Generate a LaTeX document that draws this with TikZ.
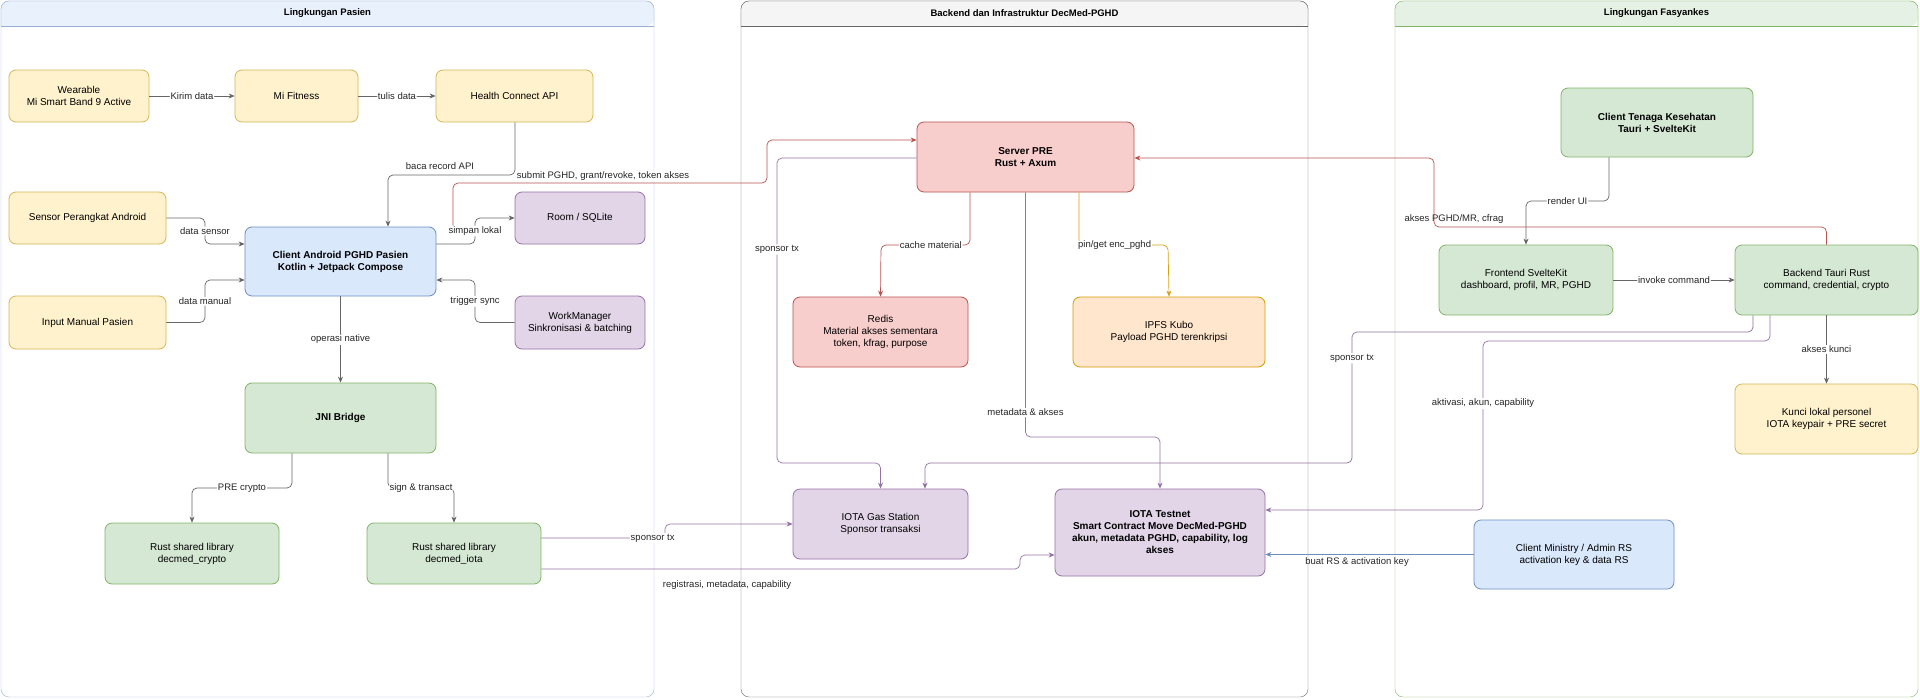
\documentclass[tikz,border=0pt]{standalone}
\usepackage{fontspec}
\setmainfont{Liberation Sans}
\usetikzlibrary{arrows.meta}
\definecolor{yf}{HTML}{FFF2CC}\definecolor{ys}{HTML}{D6B656}
\definecolor{bf}{HTML}{DAE8FC}\definecolor{bs}{HTML}{6C8EBF}
\definecolor{gf}{HTML}{D5E8D4}\definecolor{gs}{HTML}{82B366}
\definecolor{rf}{HTML}{F8CECC}\definecolor{rs}{HTML}{B85450}
\definecolor{pf}{HTML}{E1D5E7}\definecolor{ps}{HTML}{9673A6}
\definecolor{of}{HTML}{FFE6CC}\definecolor{os}{HTML}{D79B00}
\definecolor{eg}{HTML}{666666}
\begin{document}
\begin{tikzpicture}[x=1pt,y=-1pt,
 box/.style={draw=#1s,fill=#1f,rounded corners=7pt,align=center,inner sep=0pt,font=\fontsize{10}{12}\selectfont,line width=0.8pt},
 e/.style={draw=eg,line width=0.7pt,rounded corners=5pt,-{Stealth[length=6pt,width=5pt]}},
 lb/.style={fill=white,inner sep=1pt,font=\fontsize{9.5}{11}\selectfont,text=black!85},
 pt/.style={font=\bfseries\fontsize{9.5}{11}\selectfont}]
\useasboundingbox (0,0) rectangle (1920,699);
% panels
\draw[bs!70,fill=white,rounded corners=8pt] (1,1) rectangle (654,697);
\fill[bf!60,rounded corners=8pt] (1,26) -- (1,1) -- (654,1) -- (654,26) [sharp corners] -- cycle;
\draw[bs!70,rounded corners=8pt] (1,26) -- (1,1) -- (654,1) -- (654,26);
\draw[bs!70] (1,26) -- (654,26);
\node[pt] (p1) at (327.5,13.5) {Lingkungan Pasien};
\draw[eg,fill=white,rounded corners=8pt] (741,1) rectangle (1308,697);
\fill[black!4,rounded corners=8pt] (741,26) -- (741,1) -- (1308,1) -- (1308,26) [sharp corners] -- cycle;
\draw[eg,rounded corners=8pt] (741,26) -- (741,1) -- (1308,1) -- (1308,26);
\draw[eg] (741,26) -- (1308,26);
\node[pt] (p2) at (1024.5,13.5) {Backend dan Infrastruktur DecMed-PGHD};
\draw[gs,fill=white,rounded corners=8pt] (1395,1) rectangle (1918,697);
\fill[gf!60,rounded corners=8pt] (1395,26) -- (1395,1) -- (1918,1) -- (1918,26) [sharp corners] -- cycle;
\draw[gs,rounded corners=8pt] (1395,26) -- (1395,1) -- (1918,1) -- (1918,26);
\draw[gs] (1395,26) -- (1918,26);
\node[pt] (p3) at (1656.5,13.5) {Lingkungan Fasyankes};
% nodes
\node[box=y,minimum width=140pt,minimum height=52pt] (w) at (79,96) {Wearable\\Mi Smart Band 9 Active};
\node[box=y,minimum width=123pt,minimum height=52pt] (mf) at (296.5,96) {Mi Fitness};
\node[box=y,minimum width=157pt,minimum height=52pt] (hc) at (514.5,96) {Health Connect API};
\node[box=y,minimum width=157pt,minimum height=52pt] (sen) at (87.5,218) {Sensor Perangkat Android};
\node[box=b,minimum width=191pt,minimum height=69pt,font=\bfseries\fontsize{10}{12}\selectfont] (ca) at (340.5,261.5) {Client Android PGHD Pasien\\Kotlin + Jetpack Compose};
\node[box=p,minimum width=130pt,minimum height=52pt] (room) at (580,218) {Room / SQLite};
\node[box=y,minimum width=157pt,minimum height=53pt] (inp) at (87.5,322.5) {Input Manual Pasien};
\node[box=p,minimum width=130pt,minimum height=53pt] (wm) at (580,322.5) {WorkManager\\Sinkronisasi \& batching};
\node[box=g,minimum width=191pt,minimum height=70pt,font=\bfseries\fontsize{10}{12}\selectfont] (jni) at (340.5,418) {JNI Bridge};
\node[box=g,minimum width=174pt,minimum height=61pt] (rc) at (192,553.5) {Rust shared library\\decmed\_crypto};
\node[box=g,minimum width=174pt,minimum height=61pt] (ri) at (454,553.5) {Rust shared library\\decmed\_iota};
\node[box=r,minimum width=217pt,minimum height=70pt,font=\bfseries\fontsize{10}{12}\selectfont] (srv) at (1025.5,157) {Server PRE\\Rust + Axum};
\node[box=r,minimum width=175pt,minimum height=70pt] (red) at (880.5,332) {Redis\\Material akses sementara\\token, kfrag, purpose};
\node[box=o,minimum width=192pt,minimum height=70pt] (ipfs) at (1169,332) {IPFS Kubo\\Payload PGHD terenkripsi};
\node[box=p,minimum width=175pt,minimum height=70pt] (gas) at (880.5,524) {IOTA Gas Station\\Sponsor transaksi};
\node[box=p,minimum width=210pt,minimum height=87pt,font=\bfseries\fontsize{10}{12}\selectfont] (iota) at (1160,532.5) {IOTA Testnet\\Smart Contract Move DecMed-PGHD\\akun, metadata PGHD, capability, log\\akses};
\node[box=g,minimum width=192pt,minimum height=69pt,font=\bfseries\fontsize{10}{12}\selectfont] (ct) at (1657,122.5) {Client Tenaga Kesehatan\\Tauri + SvelteKit};
\node[box=g,minimum width=174pt,minimum height=70pt] (fe) at (1526,280) {Frontend SvelteKit\\dashboard, profil, MR, PGHD};
\node[box=g,minimum width=183pt,minimum height=70pt] (be) at (1826.5,280) {Backend Tauri Rust\\command, credential, crypto};
\node[box=y,minimum width=183pt,minimum height=70pt] (kk) at (1826.5,419) {Kunci lokal personel\\IOTA keypair + PRE secret};
\node[box=b,minimum width=200pt,minimum height=69pt] (min) at (1574,554.5) {Client Ministry / Admin RS\\activation key \& data RS};
% edges left
\draw[e] (w) -- node[lb]{Kirim data} (mf);
\draw[e] (mf) -- node[lb]{tulis data} (hc);
\draw[e] (515,0 |- hc.south) |- (388,175) -- (388,0 |- ca.north);
\node[lb,fill=none] (lbaca) at (440,166) {baca record API};
% red to server
\draw[e,draw=rs] (453,0 |- ca.north) |- (767,183) |- (srv.west |- 0,140);
\node[lb] (lsub) at (603,176) {submit PGHD, grant/revoke, token akses};
\draw[e] (sen.east) -| (205,244) node[lb,pos=0.75]{data sensor} -- (ca.west |- 0,244);
\draw[e] (inp.east) -| (205,280) node[lb,pos=0.75]{data manual} -- (ca.west |- 0,280);
\draw[e] (ca.east |- 0,244) -| (475,218) node[lb,pos=0.75]{simpan lokal} -- (room.west);
\draw[e] (wm.west) -| (475,280) node[lb,pos=0.75]{trigger sync} -- (ca.east |- 0,280);
\draw[e] (ca) -- node[lb]{operasi native} (jni);
\draw[e] (292,0 |- jni.south) |- (192,488) node[lb,pos=0.75]{PRE crypto} -- (rc.north);
\draw[e] (388,0 |- jni.south) |- (454,488) node[lb,pos=0.75]{sign \& transact} -- (ri.north);
% rust iota
\draw[e,draw=ps] (ri.east |- 0,538) -| (665,524) node[lb,pos=0.45]{sponsor tx} -- (gas.west);
\draw[e,draw=ps] (ri.east |- 0,569) -| (1020,555) -- (iota.west |- 0,555);
\node[lb,fill=none] (lreg) at (727,585) {registrasi, metadata, capability};
% backend
\draw[e,draw=rs] (970,0 |- srv.south) |- (881,245) node[lb,pos=0.72]{cache material} -- (red.north);
\draw[e,draw=os!80!ys] (1079,0 |- srv.south) |- (1168,245) node[lb,pos=0.7]{pin/get enc\_pghd} -- (ipfs.north);
\draw[e,draw=ps] (srv.west |- 0,158) -| (777,463) node[lb,pos=0.65]{sponsor tx} -| (gas.north);
\draw[e,draw=ps] (srv.south) |- (1160,437) node[lb,pos=0.45]{metadata \& akses} -- (iota.north);
% fasyankes
\draw[e] (1609,0 |- ct.south) |- (1526,201) node[lb,pos=0.75]{render UI} -- (fe.north);
\draw[e] (fe) -- node[lb]{invoke command} (be);
\draw[e] (be) -- node[lb]{akses kunci} (kk);
\draw[e,draw=rs] (be.north) |- (1434,227) -- (1434,158) -- (srv.east |- 0,158);
\node[lb,fill=none] (lak) at (1454,219) {akses PGHD/MR, cfrag};
\draw[e,draw=ps!80!eg] (1753,0 |- be.south) |- (1352,332) -- (1352,463) node[lb,pos=0.2]{sponsor tx} -| (925,0 |- gas.north);
\draw[e,draw=ps] (1770,0 |- be.south) |- (1483,341) -- (1483,510) node[lb,pos=0.37]{aktivasi, akun, capability} -- (iota.east |- 0,510);
\draw[e,draw=bs] (min.west) -- node[lb,pos=0.56,yshift=-8pt,fill=none]{buat RS \& activation key} (iota.east |- min.west);
\end{tikzpicture}
\end{document}
